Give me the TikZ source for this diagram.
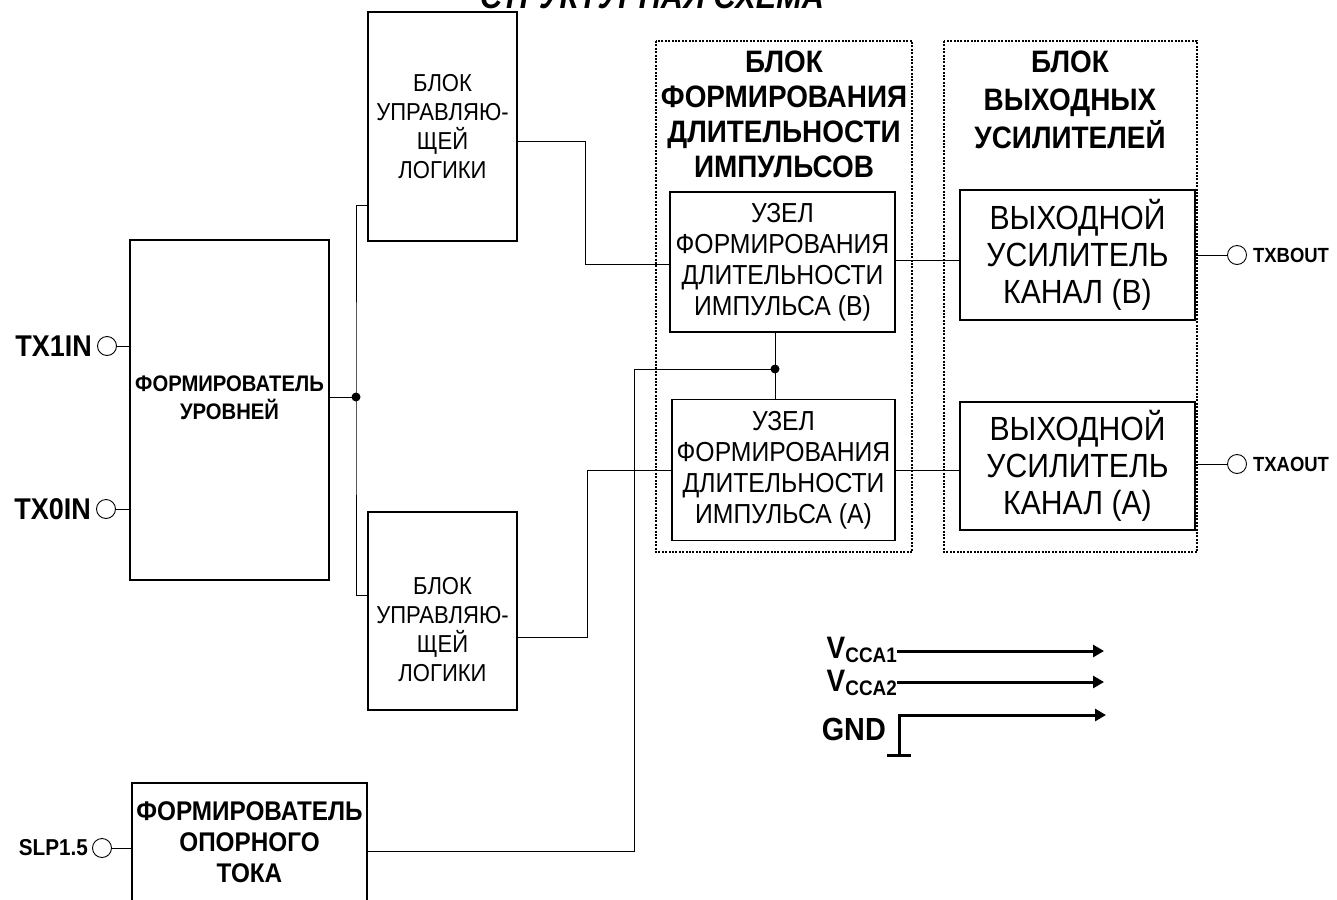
\documentclass[tikz,border=0pt]{standalone}
\usepackage{fontspec}
\setmainfont{Liberation Sans}[FakeStretch=0.9]
\usetikzlibrary{positioning,arrows.meta}
\newcommand{\fs}[2]{\fontsize{#1}{#2}\selectfont}

\begin{document}
\begin{tikzpicture}[x=1pt,y=-1pt,
    box/.style={draw,line width=1.1pt,align=center,inner sep=0pt},
    grp/.style={draw,line width=2pt,dash pattern=on 2pt off 1.4pt},
    pin/.style={draw,circle,line width=0.9pt,inner sep=0pt,minimum size=19pt},
    pinname/.style={inner sep=0pt,font=\fs{30}{30}\bfseries},
    wire/.style={line width=1pt},
    pwr/.style={line width=3pt,-{Triangle[length=11pt,width=12pt]}}]
    \useasboundingbox (0,0) rectangle (1337,899);
    % title, cut at the top edge
    \node[font=\fs{34}{34}\bfseries\itshape,anchor=base,inner sep=0pt] (title) at (652,9) {СТРУКТУРНАЯ СХЕМА};
    % dotted groups
    \draw[grp] (656,41) rectangle (912,552);
    \draw[grp] (944,41) rectangle (1197,552);
    \node[align=center,anchor=north,inner sep=0pt,font=\fs{31}{35}\bfseries] (grpPhead) at (784,51) {БЛОК\\ФОРМИРОВАНИЯ\\ДЛИТЕЛЬНОСТИ\\ИМПУЛЬСОВ};
    \node[align=center,anchor=north,inner sep=0pt,font=\fs{31}{38}\bfseries] (grpUhead) at (1070,51) {БЛОК\\ВЫХОДНЫХ\\УСИЛИТЕЛЕЙ};
    % blocks
    \node[box,minimum width=199,minimum height=340] (fmlvl) at (229.5,410) {};
    \node[align=center,font=\fs{22.5}{28}\bfseries] (fmlvltxt) at (229.5,398) {ФОРМИРОВАТЕЛЬ\\УРОВНЕЙ};
    \node[box,minimum width=149,minimum height=229,font=\fs{24.5}{29}] (logicT) at (442.5,126.5) {БЛОК\\УПРАВЛЯЮ-\\ЩЕЙ\\ЛОГИКИ};
    \node[box,minimum width=149,minimum height=198] (logicB) at (442.5,611) {};
    \node[align=center,font=\fs{24.5}{29}] (logicBtxt) at (442.5,630) {БЛОК\\УПРАВЛЯЮ-\\ЩЕЙ\\ЛОГИКИ};
    \node[box,minimum width=235,minimum height=118,font=\fs{27}{31}\bfseries] (fmref) at (249.5,842) {ФОРМИРОВАТЕЛЬ\\ОПОРНОГО\\ТОКА};
    \node[box,minimum width=225,minimum height=140,font=\fs{27.5}{31}] (uzB) at (782.5,262) {УЗЕЛ\\ФОРМИРОВАНИЯ\\ДЛИТЕЛЬНОСТИ\\ИМПУЛЬСА (В)};
    \node[box,minimum width=223,minimum height=141,font=\fs{27.5}{31}] (uzA) at (783.5,470) {УЗЕЛ\\ФОРМИРОВАНИЯ\\ДЛИТЕЛЬНОСТИ\\ИМПУЛЬСА (А)};
    \node[box,line width=1.6pt,minimum width=235,minimum height=130,font=\fs{33.5}{37}] (outB) at (1077.5,255) {ВЫХОДНОЙ\\УСИЛИТЕЛЬ\\КАНАЛ (В)};
    \node[box,line width=1.6pt,minimum width=235,minimum height=128,font=\fs{33.5}{37}] (outA) at (1077.5,466) {ВЫХОДНОЙ\\УСИЛИТЕЛЬ\\КАНАЛ (А)};
    % pins
    \node[pin] (tx1in) at (107,346) {};
    \node[pin] (tx0in) at (106,509) {};
    \node[pin] (slp) at (102,848) {};
    \node[pin] (txbout) at (1237,255) {};
    \node[pin] (txaout) at (1237,464) {};
    \node[pinname,left=5pt of tx1in] (tx1inname) {TX1IN};
    \node[pinname,left=5pt of tx0in] (tx0inname) {TX0IN};
    \node[pinname,font=\fs{23}{23}\bfseries,left=4pt of slp] (slpname) {SLP1.5};
    \node[pinname,font=\fs{20.5}{20.5}\bfseries,right=6pt of txbout] (txboutname) {TXBOUT};
    \node[pinname,font=\fs{20.5}{20.5}\bfseries,right=6pt of txaout] (txaoutname) {TXAOUT};
    % connections
    \coordinate (hub) at (356,397);
    \coordinate (junc) at (775,369);
    \draw[wire] (tx1in) -- (tx1in -| fmlvl.west);
    \draw[wire] (tx0in) -- (tx0in -| fmlvl.west);
    \draw[wire] (slp) -- (slp -| fmref.west);
    \draw[wire] (hub -| fmlvl.east) -- (hub);
    \draw[wire] (logicT.west |- 0,205) -| (hub) |- (logicB.west |- 0,595);
    \fill (hub) circle (4.5);
    \draw[wire] (logicT.east |- 0,141) -| (585,264) -- (uzB.west |- 0,264);
    \draw[wire] (logicB.east |- 0,637) -| (587,470) -- (uzA.west);
    \draw[wire] (uzB.east |- 0,260) -- (outB.west |- 0,260);
    \draw[wire] (uzA.east) -- (uzA.east -| outA.west);
    \draw[wire] (outB.east) -- (txbout);
    \draw[wire] (txaout -| outA.east) -- (txaout);
    \draw[wire] (junc |- uzB.south) -- (junc |- uzA.north);
    \draw[wire] (fmref.east |- 0,851) -| (634,369) -- (junc);
    \fill (junc) circle (4.5);
    % supply
    \node[anchor=base east,inner sep=0pt,font=\fs{31}{31}\bfseries] (vcca1) at (897,658) {V\raisebox{-4pt}{\fs{21}{21}CCA1}};
    \node[anchor=base east,inner sep=0pt,font=\fs{31}{31}\bfseries] (vcca2) at (897,691) {V\raisebox{-4pt}{\fs{21}{21}CCA2}};
    \node[anchor=base east,inner sep=0pt,font=\fs{32}{32}\bfseries] (gnd) at (886,740) {GND};
    \coordinate (vcca1end) at (1104,651);
    \coordinate (vcca2end) at (1104,682);
    \coordinate (gndend) at (1106,715);
    \coordinate (gndfoot) at (899,755);
    \draw[pwr] (vcca1end -| vcca1.east) -- (vcca1end);
    \draw[pwr] (vcca2end -| vcca2.east) -- (vcca2end);
    \draw[pwr] (gndfoot) |- (gndend);
    \draw[line width=3pt] ([xshift=-12pt]gndfoot) -- ([xshift=12pt]gndfoot);
\end{tikzpicture}
\end{document}
